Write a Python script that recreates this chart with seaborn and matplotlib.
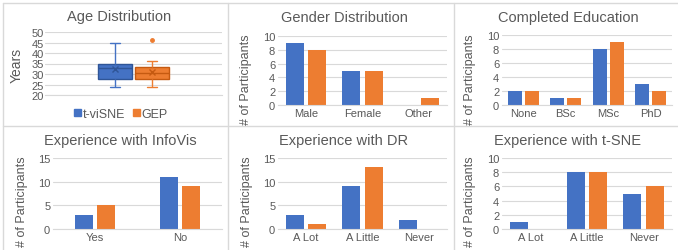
import matplotlib
matplotlib.use("Agg")
import matplotlib.pyplot as plt
import seaborn as sns
import pandas as pd
import numpy as np
from matplotlib.patches import Rectangle
from matplotlib.lines import Line2D

# ---------------- data ----------------
tools = ["t-viSNE", "GEP"]
ages_tvisne = [24, 25, 27, 27, 29, 31, 32, 34, 34, 35, 35, 36, 40, 45]
ages_gep = [24, 25, 26, 27, 29, 29, 30, 31, 32, 32, 34, 35, 36, 46]

gender_cats = ["Male", "Female", "Other"]
gender_tvisne = [9, 5, 0]
gender_gep = [8, 5, 1]

edu_cats = ["None", "BSc", "MSc", "PhD"]
edu_tvisne = [2, 1, 8, 3]
edu_gep = [2, 1, 9, 2]

infovis_cats = ["Yes", "No"]
infovis_tvisne = [3, 11]
infovis_gep = [5, 9]

dr_cats = ["A Lot", "A Little", "Never"]
dr_tvisne = [3, 9, 2]
dr_gep = [1, 13, 0]

tsne_cats = ["A Lot", "A Little", "Never"]
tsne_tvisne = [1, 8, 5]
tsne_gep = [0, 8, 6]

# ---------------- style ----------------
sns.set_theme(style="white")
plt.rcParams["font.family"] = ["Liberation Sans", "DejaVu Sans"]
BLUE = "#4472C4"
ORANGE = "#ED7D31"
TXT = "#595959"
GRID = "#D9D9D9"
palette = {"t-viSNE": BLUE, "GEP": ORANGE}

W, H = 678, 251
fig = plt.figure(figsize=(W / 100, H / 100), dpi=100)


def px_axes(x0, x1, ytop, ybot):
    return fig.add_axes([x0 / W, 1 - ybot / H, (x1 - x0) / W, (ybot - ytop) / H])


def style_ax(ax, title, title_xy, ylabel, ylabel_xy, ticks, ylabel_size=9):
    ax.set_yticks(ticks)
    ax.set_ylim(ticks[0], ticks[-1])
    ax.yaxis.grid(True, color=GRID, linewidth=0.8)
    ax.set_axisbelow(True)
    for s in ["top", "right", "left"]:
        ax.spines[s].set_visible(False)
    ax.spines["bottom"].set_color(GRID)
    ax.spines["bottom"].set_linewidth(0.8)
    ax.tick_params(axis="both", length=0, labelsize=8, labelcolor=TXT, pad=2)
    ax.set_xlabel("")
    ax.set_ylabel(ylabel, fontsize=ylabel_size, color=TXT)
    ax.yaxis.label.set_va("center")
    ax.yaxis.set_label_coords(ylabel_xy[0] / W, 1 - ylabel_xy[1] / H, transform=fig.transFigure)
    fig.text(title_xy[0] / W, 1 - title_xy[1] / H, title,
             ha="center", va="center", fontsize=10.5, color=TXT)


def bar_panel(ax, cats, v1, v2, width):
    df = pd.DataFrame({
        "cat": cats + cats,
        "tool": [tools[0]] * len(cats) + [tools[1]] * len(cats),
        "n": list(v1) + list(v2),
    })
    sns.barplot(data=df, x="cat", y="n", hue="tool", palette=palette, ax=ax,
                width=width, gap=0.2, legend=False, saturation=1, edgecolor="none")
    ax.set_xlim(-0.5, len(cats) - 0.5)


# panel 1: age boxplot
ax1 = px_axes(45, 222, 33, 96)
age_df = pd.DataFrame({
    "g": ["Age"] * (len(ages_tvisne) + len(ages_gep)),
    "tool": [tools[0]] * len(ages_tvisne) + [tools[1]] * len(ages_gep),
    "age": ages_tvisne + ages_gep,
})
sns.boxplot(data=age_df, x="g", y="age", hue="tool", palette=palette, ax=ax1,
            width=0.42, gap=0.08, saturation=1, legend=False, whis=1.5,
            showmeans=True,
            meanprops=dict(marker="x", markersize=4, markeredgewidth=1.0),
            flierprops=dict(marker="o", markersize=2.5))
dark = {BLUE: "#2F5597", ORANGE: "#C55A11"}
for cont, col in zip(ax1.containers, [BLUE, ORANGE]):
    for b in cont.boxes:
        b.set_facecolor(col)
        b.set_edgecolor(dark[col])
        b.set_linewidth(1.0)
    for ln in list(cont.whiskers) + list(cont.caps):
        ln.set_color(col)
        ln.set_linewidth(1.0)
    for ln in cont.caps:
        xd = np.asarray(ln.get_xdata(), dtype=float)
        c = xd.mean()
        ln.set_xdata(c + (xd - c) * 0.55)
    for ln in cont.medians:
        ln.set_color(dark[col])
        ln.set_linewidth(1.0)
    for ln in cont.fliers:
        ln.set_markerfacecolor(col)
        ln.set_markeredgecolor(col)
    for ln in cont.means:
        ln.set_markeredgecolor(dark[col])
        ln.set_markerfacecolor(dark[col])
ax1.set_xlim(-0.5, 0.5)
style_ax(ax1, "Age Distribution", (119, 17), "Years", (17, 65), [20, 25, 30, 35, 40, 45, 50],
         ylabel_size=10)
ax1.set_xticks([])
ax1.tick_params(axis="y", pad=1)
handles = [Rectangle((0, 0), 1, 1, color=BLUE), Rectangle((0, 0), 1, 1, color=ORANGE)]
fig.legend(handles, tools, loc="center", bbox_to_anchor=(121 / W, 1 - 115 / H), ncol=2,
           frameon=False, fontsize=9, handlelength=0.55, handleheight=0.55,
           handletextpad=0.15, columnspacing=0.6, labelcolor=TXT)

# panel 2: gender
ax2 = px_axes(278, 447, 37, 106)
bar_panel(ax2, gender_cats, gender_tvisne, gender_gep, 0.8)
style_ax(ax2, "Gender Distribution", (344, 18), "# of Participants", (246, 80), [0, 2, 4, 6, 8, 10])

# panel 3: education
ax3 = px_axes(502, 672, 36, 106)
bar_panel(ax3, edu_cats, edu_tvisne, edu_gep, 0.8)
style_ax(ax3, "Completed Education", (568, 18), "# of Participants", (470, 80), [0, 2, 4, 6, 8, 10])

# panel 4: infovis
ax4 = px_axes(53, 222, 159, 230)
bar_panel(ax4, infovis_cats, infovis_tvisne, infovis_gep, 0.53)
style_ax(ax4, "Experience with InfoVis", (120, 141), "# of Participants", (22, 202), [0, 5, 10, 15])

# panel 5: DR
ax5 = px_axes(278, 447, 159, 230)
bar_panel(ax5, dr_cats, dr_tvisne, dr_gep, 0.8)
style_ax(ax5, "Experience with DR", (344, 141), "# of Participants", (247, 202), [0, 5, 10, 15])

# panel 6: t-SNE
ax6 = px_axes(502, 672, 159, 230)
bar_panel(ax6, tsne_cats, tsne_tvisne, tsne_gep, 0.8)
style_ax(ax6, "Experience with t-SNE", (568, 141), "# of Participants", (470, 202), [0, 2, 4, 6, 8, 10])

# panel borders
for xs, ys in [([3 / W, 3 / W], [0, 1 - 4 / H]),
               ([228 / W, 228 / W], [0, 1 - 4 / H]),
               ([454 / W, 454 / W], [0, 1 - 4 / H]),
               ([3 / W, 1], [1 - 4 / H, 1 - 4 / H]),
               ([3 / W, 1], [1 - 127 / H, 1 - 127 / H])]:
    fig.add_artist(Line2D(xs, ys, color=GRID, linewidth=1.0))

fig.savefig("out.png", dpi=100)
